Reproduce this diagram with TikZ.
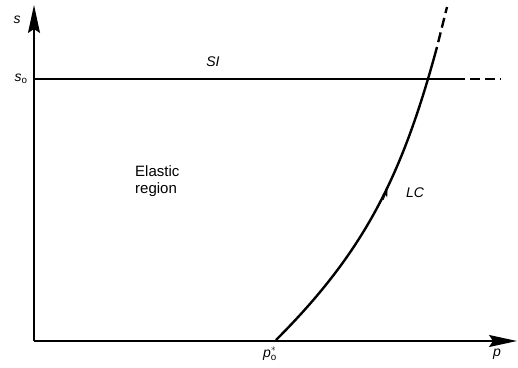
\documentclass[tikz,border=0pt]{standalone}
\usepackage{fontspec}
\setmainfont{Liberation Sans}
\usetikzlibrary{arrows.meta}
\begin{document}
\begin{tikzpicture}[x=1pt,y=-1pt,
  axis/.style={line width=1.4pt},
  bigtip/.style={-{Stealth[length=28pt,width=12pt,inset=4pt]}},
  thick line/.style={line width=2.4pt},
  dashline/.style={line width=2.4pt,dash pattern=on 10pt off 5pt,dash phase=10pt},
  lbl/.style={inner sep=0pt,font=\fontsize{14}{16}\selectfont\itshape},
  txt/.style={inner sep=0pt,font=\fontsize{15}{17}\selectfont,align=left}]
\useasboundingbox (0,0) rectangle (518,367);
\coordinate (O) at (34,341);
\coordinate (ytip) at (34,5);
\coordinate (xtip) at (517,341);
\draw[axis,bigtip] (O) -- (ytip);
\draw[axis,bigtip] (O) -- (xtip);
% SI line
\coordinate (si0) at (34,79);
\coordinate (si1) at (465,79);
\coordinate (si2) at (501,79);
\draw[thick line] (si0) -- (si1);
\draw[dashline] (si1) -- (si2);
% LC curve
\coordinate (lc0) at (276,340);
\coordinate (lc1) at (437,47);
\coordinate (lc2) at (447,7);
\draw[thick line] (lc0) .. controls (364,252) and (401.9,177) .. (lc1);
\draw[dashline] (lc1) -- (lc2);
\coordinate (a0) at (383,200);
\coordinate (a1) at (387.5,190);
\draw[line width=0.8pt,-{Stealth[length=7pt,width=5.5pt]}] (a0) -- (a1);
% labels
\node[lbl] (s) at (17,20) {s};
\node[lbl] (so) at (21,79) {s\textsubscript{\upshape o}};
\node[lbl] (p) at (497,354) {p};
\node[lbl] (po) at (270,354) {p$^{\ast}_{\mathrm{o}}$};
\node[lbl] (SI) at (213,62) {SI};
\node[lbl] (LC) at (415,193) {LC};
\node[txt,anchor=north west] (el) at (135,165) {Elastic\\region};
\end{tikzpicture}
\end{document}
